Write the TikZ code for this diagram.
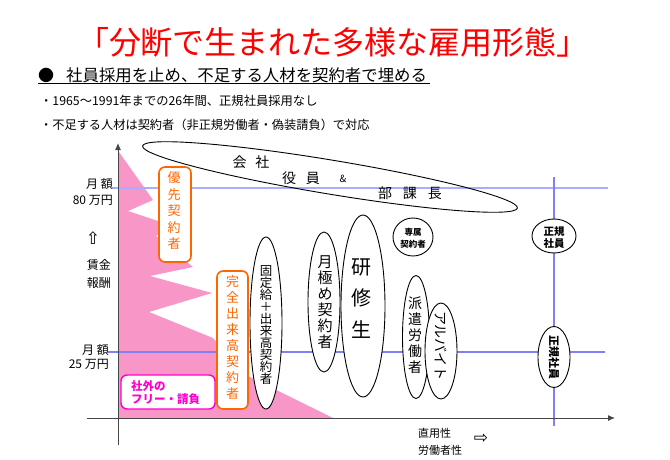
\documentclass[tikz,border=0pt]{standalone}
\usepackage{fontspec}
\newfontfamily\jp{Noto Sans CJK JP}
\newfontfamily\dv{DejaVu Sans}
\usetikzlibrary{shapes.geometric,arrows.meta}
\definecolor{pinkfill}{RGB}{248,150,200}
\definecolor{blueA}{RGB}{172,172,255}
\definecolor{blueB}{RGB}{128,128,245}
\definecolor{orangeC}{RGB}{255,102,0}
\definecolor{magC}{RGB}{255,0,204}
\definecolor{titleRed}{RGB}{255,0,0}
\definecolor{axisC}{RGB}{70,70,70}
\newcommand\fs[2]{\fontsize{#1}{#2}\selectfont\lineskiplimit=-30pt\lineskip=0pt}
\begin{document}
\begin{tikzpicture}[x=1pt,y=-1pt,
  every node/.style={font=\jp, inner sep=0pt},
  ell/.style={ellipse, draw=black, fill=white, line width=0.9pt, inner sep=0pt},
  obox/.style={draw=orangeC, line width=1.6pt, rounded corners=6pt, fill=white, inner sep=0pt},
  otext/.style={text=orangeC, align=center},
  vtext/.style={align=center},
  axisline/.style={draw=axisC, line width=1pt, -{Latex[length=7pt,width=6pt]}}]
\useasboundingbox (0,0) rectangle (670,460);
\fill[white] (0,0) rectangle (670,460);

% heading texts
\node[text=titleRed, font=\jp\fs{32}{34}] (title) at (333,42) {「分断で生まれた多様な雇用形態」};
\node[font=\jp\fs{16}{18}] (bullet) at (46,75) {●};
\node[anchor=west, font=\jp\fs{16.4}{18}] (head) at (66,75) {社員採用を止め、不足する人材を契約者で埋める};
\coordinate (ul1) at (38,84);
\coordinate (ul2) at (430,84);
\draw[line width=1pt] (ul1) -- (ul2);
\node[anchor=west, font=\jp\fs{12.3}{14}] (line3) at (40,101) {・1965～1991年までの26年間、正規社員採用なし};
\node[anchor=west, font=\jp\fs{12.2}{14}] (line4) at (40,125) {・不足する人材は契約者（非正規労働者・偽装請負）で対応};

% pink area
\fill[pinkfill] (119,152) -- (153,200) -- (128,211) -- (170,225) -- (156,236) -- (193,267) -- (150,276) -- (212,293) -- (149,312) -- (213,338) -- (240,372) -- (333,418) -- (119,418) -- cycle;

% blue lines
\coordinate (b1l) at (112,188); \coordinate (b1r) at (608,188);
\coordinate (b2l) at (108,352); \coordinate (b2r) at (605,352);
\coordinate (b3t) at (554,177); \coordinate (b3b) at (554,426);
\draw[blueA, line width=1.3pt] (b1l) -- (b1r);
\draw[blueB, line width=1.3pt] (b2l) -- (b2r);
\draw[blueB, line width=1.3pt] (b3t) -- (b3b);

% axes
\coordinate (yb) at (118,445); \coordinate (yt) at (118,143);
\coordinate (xl) at (87,418); \coordinate (xr) at (615,418);
\draw[axisline] (yb) -- (yt);
\draw[axisline] (xl) -- (xr);

% big tilted ellipse
\node[ellipse, draw=black, line width=0.9pt, minimum width=380pt, minimum height=34pt, rotate=-9.4, inner sep=0pt] (kaisha) at (330,177) {};
\node[font=\jp\fs{14}{16}] (kaishaT) at (251,162) {会\hspace{9pt}社};
\node[font=\jp\fs{14}{16}] (yakuin) at (301,178) {役\hspace{10pt}員};
\node[font=\jp\fs{10}{12}] (amp) at (343,179) {\&};
\node[font=\jp\fs{14}{16}] (buka) at (410,193) {部\hspace{11pt}課\hspace{11pt}長};

% orange boxes
\node[obox, minimum width=32pt, minimum height=95pt] (yusen) at (175,214.5) {};
\node[otext, font=\jp\fs{13}{16.5}] (yusenT) at (174,211) {優\\先\\契\\約\\者};
\node[obox, minimum width=31pt, minimum height=138pt] (kanzen) at (232.5,340) {};
\node[otext, font=\jp\fs{13}{15.9}] (kanzenT) at (232.5,337.5) {完\\全\\出\\来\\高\\契\\約\\者};

% magenta box
\node[draw=magC, line width=1.4pt, rounded corners=6pt, fill=white, minimum width=94pt, minimum height=34pt] (shagai) at (168,392) {};
\node[anchor=west, align=left, text=magC, font=\jp\bfseries\fs{11.5}{13.5}] (shagaiT) at (131,392.5) {社外の\\フリー・請負};

% ellipses
\node[ell, minimum width=32pt, minimum height=172pt] (kotei) at (266,323) {};
\node[vtext, font=\jp\fs{12.5}{12}] (koteiT) at (266,325) {固\\定\\給\\＋\\出\\来\\高\\契\\約\\者};
\node[ell, minimum width=32pt, minimum height=140pt] (tsuki) at (324,302) {};
\node[vtext, font=\jp\fs{15}{16}] (tsukiT) at (325,302) {月\\極\\め\\契\\約\\者};
\node[ell, minimum width=44pt, minimum height=182pt] (kenshu) at (363,306) {};
\node[vtext, font=\jp\fs{20}{31.5}] (kenshuT) at (361,298.5) {研\\修\\生};
\node[ell, minimum width=40pt, minimum height=38pt] (senzoku) at (413,237) {};
\node[vtext, font=\jp\bfseries\fs{8.5}{12}] (senzokuT) at (413,238) {専属\\契約者};
\node[ell, minimum width=27pt, minimum height=123pt] (haken) at (416,337) {};
\node[vtext, font=\jp\fs{14}{16}] (hakenT) at (415,335) {派\\遣\\労\\働\\者};
\node[ell, minimum width=32pt, minimum height=96pt] (arubaito) at (441,351) {};
\node[font=\jp\fs{14}{16}, rotate=-90] (arubaitoT) at (441,346) {アルバイト};
\node[ell, minimum width=44pt, minimum height=34pt] (seikiA) at (554,236) {};
\node[vtext, font=\jp\bfseries\fs{10.5}{11.5}] (seikiAT) at (554,237.5) {正規\\社員};
\node[ell, minimum width=32pt, minimum height=61pt] (seikiB) at (554,357) {};
\node[font=\jp\bfseries\fs{11}{13}, rotate=-90] (seikiBT) at (554,357) {正規社員};

% left labels
\node[anchor=east, align=right, font=\jp\fs{12}{16}] (m80) at (113,192) {月 額\\80 万円};
\node[font=\dv\fs{17}{18}] (upar) at (93,238) {⇧};
\node[anchor=east, align=right, font=\jp\fs{12}{18}] (chin) at (111,274) {賃金\\報酬};
\node[anchor=east, align=right, font=\jp\fs{12}{14}] (m25) at (109,357) {月 額\\25 万円};

% bottom labels
\node[anchor=west, align=left, font=\jp\fs{11}{17}] (choku) at (418,441.5) {直用性\\労働者性};
\node[font=\dv\fs{17}{18}] (rar) at (481,439) {⇨};
\end{tikzpicture}
\end{document}
